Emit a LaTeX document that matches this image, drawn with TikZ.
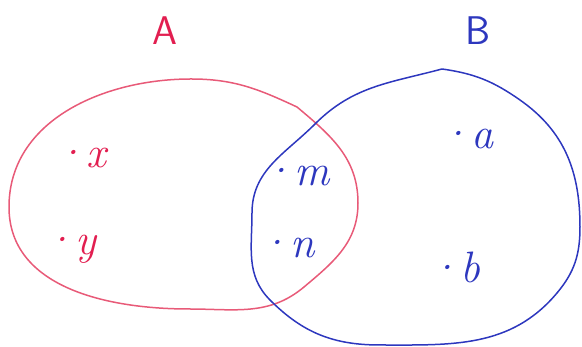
\documentclass[tikz,border=0pt]{standalone}
\usepackage{fontspec}
\usepackage{xcolor}
\usepackage{tikz}
\usetikzlibrary{positioning}

\definecolor{setred}{RGB}{226,30,80}
\definecolor{setpink}{RGB}{232,90,120}
\definecolor{setblue}{RGB}{45,55,190}

\begin{document}
\begin{tikzpicture}[
  x=1pt, y=1pt,
  setname/.style={font=\fontsize{40}{40}\selectfont\sffamily, inner sep=0pt},
  element/.style={font=\fontsize{44}{44}\selectfont\itshape, inner sep=0pt},
  outline/.style={line width=1.5pt, line cap=round, line join=round}
]
\useasboundingbox (0,0) rectangle (582,347);

% set names
\node[setname, text=setred] (nameA) at (165,316) {A};
\node[setname, text=setblue] (nameB) at (478,316) {B};

% set A
\draw[outline, setpink] (9,140) to[out=90,in=180] (191,268)
  to[out=0,in=155] (297,240)
  to[out=-40,in=90] (358,144) to[out=-90,in=40] (304,60)
  to[out=-140,in=0] (189,38) to[out=180,in=-90] cycle;

% set B
\draw[outline, setblue] (442,278) to[out=-8,in=145] (520,247)
  to[out=-35,in=90] (580,120) to[out=-90,in=50] (557,54)
  to[out=-130,in=0] (380,2) to[out=180,in=-45] (270,47)
  to[out=135,in=-90] (252,134) to[out=90,in=225] (315,223)
  to[out=45,in=195] cycle;

% elements of A only
\node[element, text=setred] (elx) at (80,189) {·x};
\node[element, text=setred] (ely) at (69,98) {·y};

% elements of A and B
\node[element, text=setblue] (elm) at (296,171) {·m};
\node[element, text=setblue] (eln) at (286,99) {·n};

% elements of B only
\node[element, text=setblue] (ela) at (466,208) {·a};
\node[element, text=setblue] (elb) at (454,80) {·b};
\end{tikzpicture}
\end{document}
